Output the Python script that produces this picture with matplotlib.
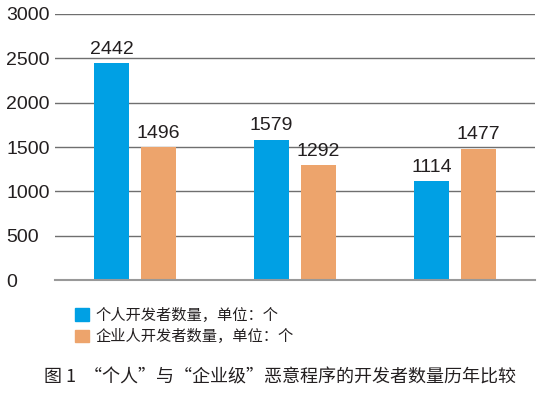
import matplotlib
matplotlib.use("Agg")
import matplotlib.pyplot as plt
from matplotlib.patches import Patch

categories = ["A", "B", "C"]
personal = [2442, 1579, 1114]
enterprise = [1496, 1292, 1477]
yticks = [0, 500, 1000, 1500, 2000, 2500, 3000]
legend_labels = ["个人开发者数量，单位：个", "企业人开发者数量，单位：个"]
caption = "图 1  “个人”与“企业级”恶意程序的开发者数量历年比较"

blue = "#00A0E4"
orange = "#EDA46C"
txt = "#231F20"

plt.rcParams['font.family'] = ['Liberation Sans', 'Noto Sans CJK SC', 'DejaVu Sans']
fig = plt.figure(figsize=(5.5, 3.94), dpi=100)
ax = fig.add_axes([0.1, 0.2893, 0.8727, 0.6752])

x = list(range(len(categories)))
w = 0.22
off = 0.146
b1 = ax.bar([i - off for i in x], personal, width=w, color=blue, zorder=3)
b2 = ax.bar([i + off for i in x], enterprise, width=w, color=orange, zorder=3)
ax.bar_label(b1, fontsize=14, color=txt, padding=4)
ax.bar_label(b2, fontsize=14, color=txt, padding=4)

ax.set_xlim(-0.5, 2.5)
ax.set_ylim(0, 3000)
ax.set_yticks(yticks)
ax.set_yticklabels([str(t) for t in yticks], fontsize=14, color=txt, ha='left')
ax.tick_params(axis='y', length=0, pad=35)
ax.tick_params(axis='x', length=0, labelbottom=False)
ax.yaxis.grid(True, color="#6f6f6f", linewidth=1.0, zorder=0)
for s in ['top', 'right', 'left']:
    ax.spines[s].set_visible(False)
ax.spines['bottom'].set_color("#999999")
ax.spines['bottom'].set_linewidth(1.5)
ax.spines['bottom'].set_zorder(4)

handles = [Patch(color=blue), Patch(color=orange)]
fig.legend(handles, legend_labels, loc='upper left', bbox_to_anchor=(0.137, 0.222),
           frameon=False, prop={'family': ['Noto Sans CJK SC'], 'size': 11},
           handlelength=0.9, handleheight=0.9, handletextpad=0.45, labelspacing=0.3,
           labelcolor=txt, borderaxespad=0, borderpad=0)

fig.text(0.509, 0.043, caption, ha='center', va='center', fontsize=13,
         color=txt, family=['Noto Sans CJK SC'])

fig.savefig("out.png", dpi=100)
